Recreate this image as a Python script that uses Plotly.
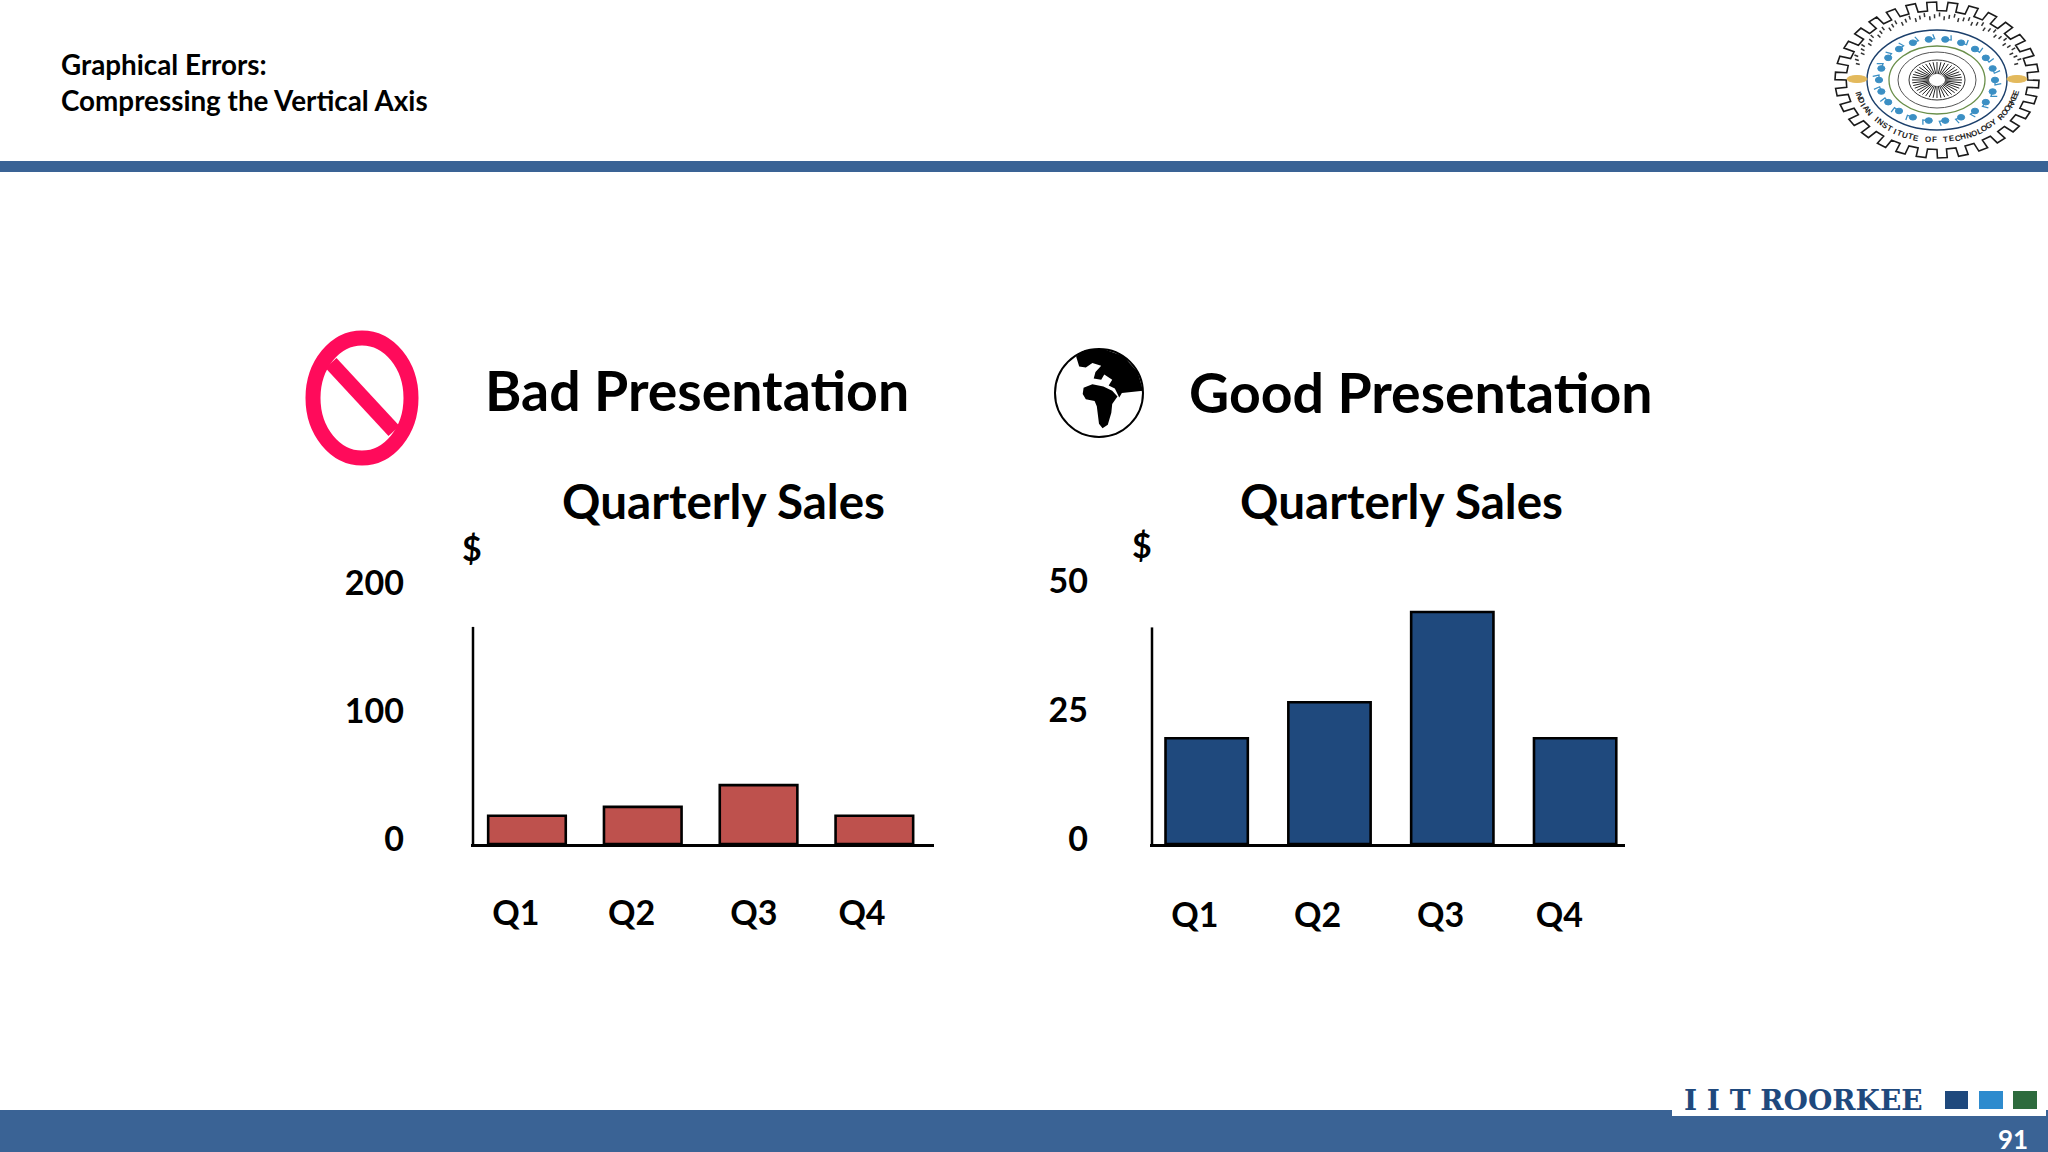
import math
import plotly.graph_objects as go

W, H = 2048, 1152

quarters = ['Q1', 'Q2', 'Q3', 'Q4']
bar_pos = [1, 2, 3, 4]

# values
bad_sales = [22, 29, 46, 22]
good_sales = [20.5, 27.5, 45, 20.5]

bad_ticks = [0, 100, 200]
good_ticks = [0, 25, 50]

# the labels on the slide sit a bit left of the bar centres
bad_label_pos = [0.904, 1.904, 2.96, 3.893]
good_label_pos = [0.904, 1.904, 2.904, 3.872]

FONT = 'Lato'
BAR_RED = '#BE514D'
BAR_BLUE = '#1F497D'
BAND = '#3A6395'
PINK = '#FF0B5B'


def px(x, y):
    return x / W, 1 - y / H


def rect(x0, y0, x1, y1, color):
    xa, ya = px(x0, y0)
    xb, yb = px(x1, y1)
    return dict(type='rect', xref='paper', yref='paper', x0=xa, y0=ya, x1=xb, y1=yb,
                fillcolor=color, line=dict(width=0), layer='below')


def ellipse(cx, cy, rx, ry, line='#000000', width=1.5, fill='rgba(0,0,0,0)'):
    xa, ya = px(cx - rx, cy - ry)
    xb, yb = px(cx + rx, cy + ry)
    return dict(type='circle', xref='paper', yref='paper', x0=xa, y0=ya, x1=xb, y1=yb,
                fillcolor=fill, line=dict(color=line, width=width))


def poly(points, fill=None, line='rgba(0,0,0,0)', width=0, close=True):
    parts = []
    for i, (x, y) in enumerate(points):
        a, b = px(x, y)
        parts.append(('M' if i == 0 else 'L') + f'{a:.5f},{b:.5f}')
    path = ' '.join(parts) + (' Z' if close else '')
    return dict(type='path', xref='paper', yref='paper', path=path,
                fillcolor=fill if fill else 'rgba(0,0,0,0)', line=dict(color=line, width=width))


def text(x, y, s, size, color='#000000', anchor='left', bold=True, family=FONT, angle=0):
    a, b = px(x, y)
    if bold:
        s = f'<b>{s}</b>'
    return dict(x=a, y=b, xref='paper', yref='paper', text=s, showarrow=False, xanchor=anchor,
                yanchor='middle', textangle=angle, font=dict(family=family, size=size, color=color))


def logo_shapes(cx=1937, cy=80):
    out = []
    # gear outline
    teeth = 30
    pts = []
    for i in range(teeth):
        for frac, r in [(0.0, 0.89), (0.02, 1.0), (0.48, 1.0), (0.5, 0.89)]:
            t = 2 * math.pi * (i + frac) / teeth
            pts.append((cx + 102 * r * math.cos(t), cy + 78 * r * math.sin(t)))
    out.append(poly(pts, fill='#FFFFFF', line='#1B1B1B', width=1.6))
    out.append(ellipse(cx, cy, 70, 50, line='#1B3F6B', width=1.4))
    # top text band, drawn as small strokes
    for i in range(46):
        t = math.radians(195 + i * 150 / 45)
        r = 1 + 0.03 * ((i * 7) % 3)
        x, y = cx + 80 * r * math.cos(t), cy + 60 * r * math.sin(t)
        out.append(poly([(x, y), (x + 4 * math.cos(t), y + 4 * math.sin(t))], line='#333333', width=1.5, close=False))
    # blue swirls
    for i in range(22):
        t = 2 * math.pi * i / 22
        x, y = cx + 58 * math.cos(t), cy + 41 * math.sin(t)
        out.append(ellipse(x, y, 3.6, 2.8, line='#3B8FC4', width=1, fill='#3B8FC4'))
        tail = t + math.pi / 2
        out.append(poly([(x, y), (x + 6 * math.cos(tail), y + 5 * math.sin(tail)),
                         (x + 8 * math.cos(tail - 0.9), y + 6 * math.sin(tail - 0.9))],
                        line='#3B8FC4', width=1.3, close=False))
    out.append(ellipse(cx, cy, 48, 34, line='#6A8F4A', width=1.3))
    out.append(ellipse(cx, cy, 39, 28, line='#555555', width=1))
    out.append(ellipse(cx, cy, 28, 20, line='#333333', width=1))
    # wheel in the middle
    for i in range(40):
        t = 2 * math.pi * i / 40
        out.append(poly([(cx + 8 * math.cos(t), cy + 6 * math.sin(t)),
                         (cx + 25 * math.cos(t), cy + 18 * math.sin(t))], line='#222222', width=1, close=False))
    # lions either side
    for x in (1857, 2017):
        out.append(ellipse(x, 79, 10, 3.5, line='#E3B95C', width=1, fill='#E3B95C'))
    return out


def logo_text(cx=1937, cy=80):
    out = []
    s = 'INDIAN INSTITUTE OF TECHNOLOGY ROORKEE'
    start, end = 168, 12
    for i, ch in enumerate(s):
        deg = start + (end - start) * i / (len(s) - 1)
        t = math.radians(deg)
        x, y = cx + 81 * math.cos(t), cy + 60 * math.sin(t)
        # direction of travel along the ellipse, screen coords
        angle = math.degrees(math.atan2(-60 * math.cos(t) * -1, 81 * math.sin(t)))
        out.append(text(x, y, ch, 8, color='#222222', anchor='center', family='Liberation Sans', angle=-angle))
    return out


def globe_shapes():
    cx, cy, r = 1099, 393, 44
    # outline in units of the radius, x right, y down
    eurasia = [(-0.52, -0.83), (-0.32, -0.97), (0.1, -1.0), (0.55, -0.84), (0.88, -0.48), (1.0, -0.05),
               (0.52, 0.0), (0.46, 0.1), (0.36, -0.1), (0.22, -0.17), (0.3, -0.3), (0.12, -0.42),
               (0.05, -0.3), (-0.12, -0.33), (-0.08, -0.48), (0.05, -0.62), (-0.15, -0.68), (-0.3, -0.58),
               (-0.45, -0.6)]
    africa = [(-0.35, -0.12), (-0.15, -0.2), (0.1, -0.15), (0.3, -0.05), (0.42, 0.08), (0.3, 0.25),
              (0.28, 0.45), (0.2, 0.72), (0.08, 0.8), (0.0, 0.7), (-0.05, 0.3), (-0.1, 0.18),
              (-0.3, 0.14), (-0.37, 0.02)]
    out = [ellipse(cx, cy, r, r, line='#000000', width=2, fill='#FFFFFF')]
    for land in (eurasia, africa):
        out.append(poly([(cx + r * x, cy + r * y) for x, y in land], fill='#000000'))
    return out


def add_panel(fig, sales, color, xname, yname, x_left, axis_top):
    fig.add_trace(go.Bar(x=bar_pos, y=sales, width=0.67, marker=dict(color=color, line=dict(color='#000000', width=2.6)),
                         xaxis=xname, yaxis=yname, showlegend=False))
    # y axis stops short of the top tick on the slide, so it is its own line
    fig.add_trace(go.Scatter(x=[x_left, x_left], y=[0, axis_top], mode='lines',
                             line=dict(color='#000000', width=2.5), xaxis=xname, yaxis=yname, showlegend=False))


fig = go.Figure()
add_panel(fig, bad_sales, BAR_RED, 'x', 'y', 0.534, 169.5)
add_panel(fig, good_sales, BAR_BLUE, 'x2', 'y2', 0.555, 42)

base_y = 844
tick_font = dict(family=FONT, size=34, color='#000000', weight='bold')


def x_axis(domain_px, rng, label_pos, anchor, standoff):
    return dict(domain=[domain_px[0] / W, domain_px[1] / W], range=rng, anchor=anchor, tickmode='array',
                tickvals=label_pos, ticktext=quarters, tickfont=tick_font, ticks='', ticklen=0, showgrid=False,
                zeroline=False, showline=True, linecolor='#000000', linewidth=2.5, ticklabelstandoff=standoff,
                automargin=False)


def y_axis(top_px, rng, ticks, anchor, standoff):
    return dict(domain=[1 - base_y / H, 1 - top_px / H], range=rng, anchor=anchor, tickmode='array',
                tickvals=ticks, ticktext=[str(t) for t in ticks], tickfont=tick_font, ticks='', ticklen=0,
                showgrid=False, zeroline=False, showline=False, ticklabelstandoff=standoff, ticklabelshift=-5,
                automargin=False)


shapes = [
    rect(0, 161, W, 172, BAND),
    rect(0, 1110, W, H, BAND),
    rect(1672, 1100, 2046, 1116, '#FFFFFF'),
    rect(1945, 1091, 1968, 1109, '#1F497D'),
    rect(1979, 1091, 2003, 1109, '#2E8BCE'),
    rect(2013, 1091, 2037, 1109, '#2E6B3E'),
    ellipse(362, 398, 49, 60, line=PINK, width=15),
    poly([(331, 363), (394, 431)], line=PINK, width=15, close=False),
]
shapes += globe_shapes()
shapes += logo_shapes()

annotations = [
    text(59, 64, 'Graphical Errors:', 27.8),
    text(59, 100, 'Compressing the Vertical Axis', 27.8),
    text(483, 389.5, 'Bad Presentation', 55.4),
    text(1187, 391.5, 'Good Presentation', 55.4),
    text(560, 500, 'Quarterly Sales', 47.6),
    text(1238, 500, 'Quarterly Sales', 47.6),
    text(472, 547, '$', 34, anchor='center'),
    text(1142, 544, '$', 34, anchor='center'),
    text(1682, 1100, 'I I T ROORKEE', 28, color='#1F497D', family='DejaVu Serif'),
    text(2013, 1139, '91', 26, color='#FFFFFF', anchor='center'),
]
annotations += logo_text()

fig.update_layout(
    width=W, height=H, margin=dict(l=0, r=0, t=0, b=0, autoexpand=False), paper_bgcolor='#FFFFFF',
    plot_bgcolor='rgba(0,0,0,0)', font=dict(family=FONT), showlegend=False,
    # domains start 2px left of the y axis line so the line is not clipped
    xaxis=x_axis((471, 934), [0.5167, 4.515], bad_label_pos, 'y', 37),
    yaxis=y_axis(584, [0, 203], bad_ticks, 'x', 66),
    xaxis2=x_axis((1150, 1625), [0.5387, 4.406], good_label_pos, 'y2', 39),
    yaxis2=y_axis(581, [0, 51], good_ticks, 'x2', 61),
    shapes=shapes, annotations=annotations,
)

fig.write_html('out.html', config=dict(displayModeBar=False), post_script="document.body.style.margin='0'")
